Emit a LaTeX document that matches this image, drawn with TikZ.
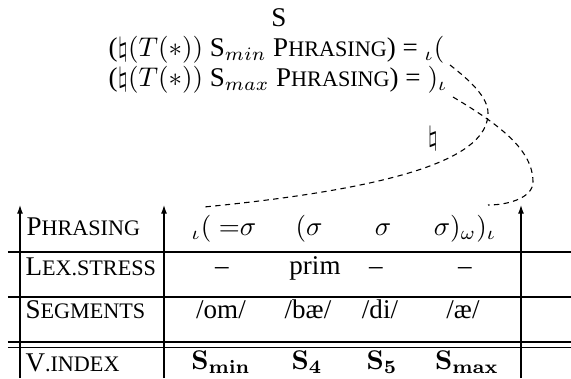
\documentclass[tikz,border=0pt]{standalone}
\usepackage[no-math]{fontspec}
\setmainfont{Liberation Serif}
\usetikzlibrary{arrows.meta}
\newcommand\fsc[2]{#1{\fontsize{8.2}{10}\selectfont #2}}
\begin{document}
\begin{tikzpicture}[x=0.37pt,y=-0.37pt,
  txt/.style={inner sep=0pt,font=\rmfamily\fontsize{10}{12}\selectfont},
  lbl/.style={txt,anchor=base west},
  val/.style={txt,anchor=base},
  hline/.style={line width=0.7pt},
  uparrow/.style={line width=0.4pt,-{Latex[length=3.2pt,width=2.2pt]}},
  link/.style={line width=0.4pt,dash pattern=on 2pt off 1.6pt}]
\useasboundingbox (0,0) rectangle (571,378);
% header
\node[txt] (S) at (279,18) {S};
\node[txt,anchor=base west] (l1) at (108,56) {($\natural(T(*))$ S$_{min}$ \fsc{P}{HRASING}) = $_\iota($};
\node[txt,anchor=base west] (l2) at (108,86) {($\natural(T(*))$ S$_{max}$ \fsc{P}{HRASING}) = $)_\iota$};
\node[txt] (nat) at (433,139) {$\natural$};
% table lines
\coordinate (hl1a) at (8,252); \coordinate (hl1b) at (571,252);
\coordinate (hl2a) at (8,297); \coordinate (hl2b) at (571,297);
\coordinate (hl3a) at (8,342); \coordinate (hl3b) at (571,342);
\coordinate (hl4a) at (8,347.5); \coordinate (hl4b) at (571,347.5);
\draw[hline] (hl1a) -- (hl1b);
\draw[hline] (hl2a) -- (hl2b);
\draw[hline] (hl3a) -- (hl3b);
\draw[hline] (hl4a) -- (hl4b);
% arrows
\coordinate (a1s) at (20,378); \coordinate (a1e) at (20,205);
\coordinate (a2s) at (164,378); \coordinate (a2e) at (164,205);
\coordinate (a3s) at (521,378); \coordinate (a3e) at (521,205);
\draw[uparrow] (a1s) -- (a1e);
\draw[uparrow] (a2s) -- (a2e);
\draw[uparrow] (a3s) -- (a3e);
% labels
\node[lbl] (rP) at (26,235) {\fsc{P}{HRASING}};
\node[lbl] (rL) at (25,275) {\fsc{L}{EX.STRESS}};
\node[lbl] (rS) at (25,318) {\fsc{S}{EGMENTS}};
\node[lbl] (rV) at (25,371) {\fsc{V}{.INDEX}};
% values
\node[val] (p1) at (224,235) {$_\iota(\;{=}\sigma$};
\node[val] (p2) at (309,235) {$(\sigma$};
\node[val] (p3) at (383,235) {$\sigma$};
\node[val] (p4) at (465,235) {$\sigma)_\omega)_\iota$};
\node[val] (s1) at (222,274) {\textendash};
\node[val] (s2) at (315,274) {prim};
\node[val] (s3) at (376,274) {\textendash};
\node[val] (s4) at (465,274) {\textendash};
\node[val] (g1) at (221,318) {/om/};
\node[val] (g2) at (308,318) {/bæ/};
\node[val] (g3) at (380,318) {/di/};
\node[val] (g4) at (463,318) {/æ/};
\node[val] (v1) at (221,369) {$\mathbf{S_{min}}$};
\node[val] (v2) at (307,369) {$\mathbf{S_4}$};
\node[val] (v3) at (382,369) {$\mathbf{S_5}$};
\node[val] (v4) at (467,369) {$\mathbf{S_{max}}$};
% dashed links
\coordinate (c1s) at (450,65); \coordinate (c1m) at (488,113); \coordinate (c1e) at (204,207);
\coordinate (c2s) at (453,97); \coordinate (c2m) at (533,182); \coordinate (c2e) at (488,205);
\draw[link] (c1s) .. controls (472,82) and (488,98) .. (c1m)
            .. controls (488,150) and (430,185) .. (c1e);
\draw[link] (c2s) .. controls (500,125) and (533,150) .. (c2m)
            .. controls (533,197) and (510,205) .. (c2e);
\end{tikzpicture}
\end{document}
